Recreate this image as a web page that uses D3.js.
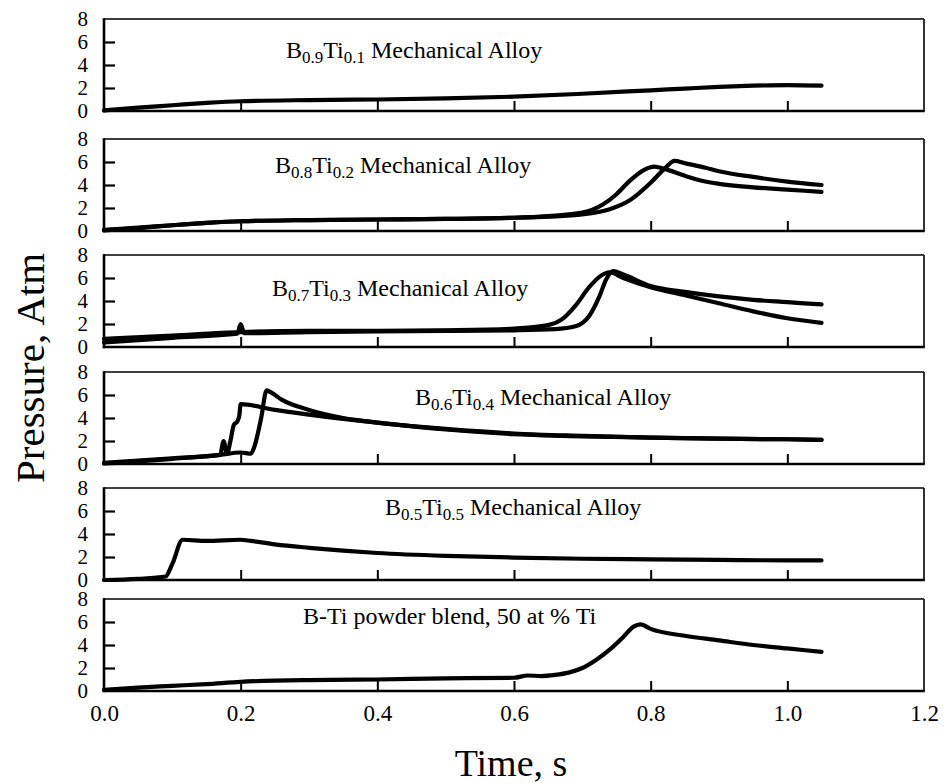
<!DOCTYPE html>
<html><head><meta charset="utf-8">
<script src="https://cdn.jsdelivr.net/npm/d3@7"></script>
<style>body{margin:0;background:#fff}svg{display:block}text,tspan{font-family:"Liberation Serif","Times New Roman",serif !important;fill:#000}</style>
</head><body><svg id="c" width="946" height="784"></svg>
<script>
const xTicks = [0.0, 0.2, 0.4, 0.6, 0.8, 1.0, 1.2];
const yTicks = [0, 2, 4, 6, 8];
const xTitle = "Time, s";
const yTitle = "Pressure, Atm";
// panel titles: [main, sub, main, sub, rest]
const titles = [
  ["B","0.9","Ti","0.1"," Mechanical Alloy"],
  ["B","0.8","Ti","0.2"," Mechanical Alloy"],
  ["B","0.7","Ti","0.3"," Mechanical Alloy"],
  ["B","0.6","Ti","0.4"," Mechanical Alloy"],
  ["B","0.5","Ti","0.5"," Mechanical Alloy"],
  ["B-Ti powder blend, 50 at % Ti"]
];
// series [time s, pressure atm]
const p1 = [[0,0.05],[0.05,0.3],[0.1,0.5],[0.15,0.7],[0.2,0.85],[0.3,0.95],[0.4,1.0],[0.5,1.1],[0.6,1.25],[0.7,1.5],[0.8,1.8],[0.85,1.95],[0.9,2.1],[0.95,2.2],[1.0,2.25],[1.05,2.2]];
const p2a = [[0,0.1],[0.05,0.3],[0.1,0.5],[0.15,0.7],[0.2,0.85],[0.3,0.95],[0.4,1.0],[0.5,1.05],[0.6,1.15],[0.65,1.3],[0.7,1.6],[0.73,2.3],[0.75,3.2],[0.77,4.4],[0.79,5.3],[0.805,5.6],[0.82,5.4],[0.85,4.8],[0.88,4.3],[0.9,4.1],[0.95,3.8],[1.0,3.6],[1.05,3.4]];
const p2b = [[0,0.05],[0.05,0.25],[0.1,0.5],[0.15,0.7],[0.2,0.85],[0.3,0.95],[0.4,1.0],[0.5,1.05],[0.6,1.15],[0.65,1.25],[0.7,1.45],[0.74,1.9],[0.77,2.7],[0.8,4.2],[0.82,5.4],[0.835,6.1],[0.85,5.9],[0.88,5.5],[0.9,5.2],[0.95,4.7],[1.0,4.3],[1.05,4.0]];
const p3a = [[0,0.7],[0.1,1.0],[0.2,1.3],[0.3,1.4],[0.4,1.4],[0.5,1.45],[0.6,1.6],[0.65,1.9],[0.67,2.4],[0.69,3.6],[0.71,5.2],[0.725,6.1],[0.74,6.5],[0.76,6.0],[0.8,5.2],[0.85,4.5],[0.9,3.8],[0.95,3.1],[1.0,2.5],[1.05,2.1]];
const p3b = [[0,0.4],[0.1,0.8],[0.195,1.15],[0.2,2.0],[0.205,1.2],[0.3,1.3],[0.4,1.35],[0.5,1.4],[0.6,1.45],[0.66,1.55],[0.69,1.8],[0.71,2.7],[0.725,4.4],[0.735,5.9],[0.745,6.6],[0.76,6.3],[0.8,5.3],[0.85,4.8],[0.9,4.4],[0.95,4.1],[1.0,3.9],[1.05,3.7]];
const p4a = [[0,0.1],[0.1,0.5],[0.17,0.8],[0.175,2.0],[0.18,0.9],[0.185,2.0],[0.19,3.4],[0.195,3.7],[0.198,4.2],[0.2,5.2],[0.25,4.7],[0.3,4.3],[0.4,3.6],[0.5,3.0],[0.6,2.6],[0.7,2.4],[0.8,2.3],[0.9,2.2],[1.0,2.15],[1.05,2.1]];
const p4b = [[0,0.05],[0.1,0.45],[0.17,0.8],[0.2,1.0],[0.215,0.9],[0.22,1.5],[0.23,4.0],[0.238,6.4],[0.245,6.2],[0.26,5.6],[0.3,4.7],[0.35,4.0],[0.4,3.6],[0.45,3.3],[0.5,3.05],[0.6,2.65],[0.7,2.45],[0.8,2.3],[0.9,2.2],[1.0,2.15],[1.05,2.1]];
const p5 = [[0,0],[0.05,0.1],[0.09,0.3],[0.1,1.4],[0.115,3.5],[0.15,3.4],[0.2,3.5],[0.215,3.4],[0.25,3.1],[0.3,2.8],[0.35,2.55],[0.4,2.35],[0.5,2.1],[0.6,1.95],[0.7,1.85],[0.8,1.8],[0.9,1.75],[1.0,1.7],[1.05,1.7]];
const p6 = [[0,0.1],[0.05,0.3],[0.1,0.45],[0.15,0.6],[0.2,0.8],[0.25,0.9],[0.3,0.95],[0.4,1.0],[0.5,1.1],[0.6,1.15],[0.62,1.35],[0.64,1.3],[0.66,1.4],[0.68,1.6],[0.7,2.0],[0.72,2.7],[0.74,3.6],[0.76,4.7],[0.775,5.6],[0.785,5.8],[0.8,5.4],[0.85,4.8],[0.9,4.4],[0.95,4.0],[1.0,3.7],[1.05,3.4]];
const panelSeries = [[p1],[p2a,p2b],[p3a,p3b],[p4a,p4b],[p5],[p6]];

// layout
const panelTop = [19,139,255,372,488,599];
const panelH = 92;
const titlePos = [[286,58],[275,173],[272,296],[415,405],[385,515],[303,624]];
const L = 104, R = 924;
const serif = '"Liberation Serif","Times New Roman",serif';

const svg = d3.select("#c");
const x = d3.scaleLinear().domain([0,1.2]).range([L,R]);

panelSeries.forEach((series,i)=>{
  const top = panelTop[i], bot = top+panelH;
  const y = d3.scaleLinear().domain([0,8]).range([bot,top]);
  const g = svg.append("g");
  g.append("line").attr("x1",L).attr("x2",R).attr("y1",top).attr("y2",top).attr("stroke","#000").attr("stroke-width",1.6);
  g.append("line").attr("x1",R).attr("x2",R).attr("y1",top).attr("y2",bot).attr("stroke","#000").attr("stroke-width",1.6);
  g.append("line").attr("x1",L).attr("x2",L).attr("y1",top-0.8).attr("y2",bot+1.2).attr("stroke","#000").attr("stroke-width",2.6);
  g.append("line").attr("x1",L-1.2).attr("x2",R+0.8).attr("y1",bot).attr("y2",bot).attr("stroke","#000").attr("stroke-width",2.4);
  const ya = d3.axisLeft(y).tickValues(yTicks).tickSize(-11).tickPadding(16).tickFormat(d3.format("d"));
  const yg = g.append("g").attr("transform",`translate(${L},0)`).call(ya);
  yg.attr("font-family",null).attr("font-size",null);
  yg.select(".domain").remove();
  yg.selectAll(".tick line").attr("stroke","#000").attr("stroke-width",2.2).filter(d=>d===0||d===8).remove();
  yg.selectAll(".tick text").style("font-size","21px").style("font-family",serif).attr("fill","#000");
  const xa = d3.axisBottom(x).tickValues(xTicks).tickSize(-10).tickFormat(d3.format(".1f")).tickPadding(14);
  const xg = g.append("g").attr("transform",`translate(0,${bot})`).call(xa);
  xg.attr("font-family",null).attr("font-size",null);
  xg.select(".domain").remove();
  xg.selectAll(".tick line").attr("stroke","#000").attr("stroke-width",2).filter(d=>d===0||d===1.2).remove();
  if(i<5) xg.selectAll(".tick text").remove();
  else xg.selectAll(".tick text").style("font-size","23px").style("font-family",serif).attr("fill","#000");
  const line = d3.line().x(d=>x(d[0])).y(d=>y(d[1])).curve(d3.curveMonotoneX);
  series.forEach(s=>{
    g.append("path").attr("d",line(s)).attr("fill","none").attr("stroke","#000")
      .attr("stroke-width",4.2).attr("stroke-linejoin","round").attr("stroke-linecap","round");
  });
  const t = titles[i];
  const tx = g.append("text").attr("x",titlePos[i][0]).attr("y",titlePos[i][1]).style("font-size","24px").style("font-family",serif);
  if(t.length===1){ tx.text(t[0]); }
  else {
    tx.append("tspan").text(t[0]);
    tx.append("tspan").style("font-size","17px").attr("dy",5).text(t[1]);
    tx.append("tspan").attr("dy",-5).text(t[2]);
    tx.append("tspan").style("font-size","17px").attr("dy",5).text(t[3]);
    tx.append("tspan").attr("dy",-5).text(t[4]);
  }
});

svg.append("text").attr("x",511).attr("y",776).attr("text-anchor","middle").style("font-size","38px").style("font-family",serif).text(xTitle);
svg.append("text").attr("transform","translate(44,368) rotate(-90)").attr("text-anchor","middle").style("font-size","41px").style("font-family",serif).text(yTitle);
</script></body></html>
